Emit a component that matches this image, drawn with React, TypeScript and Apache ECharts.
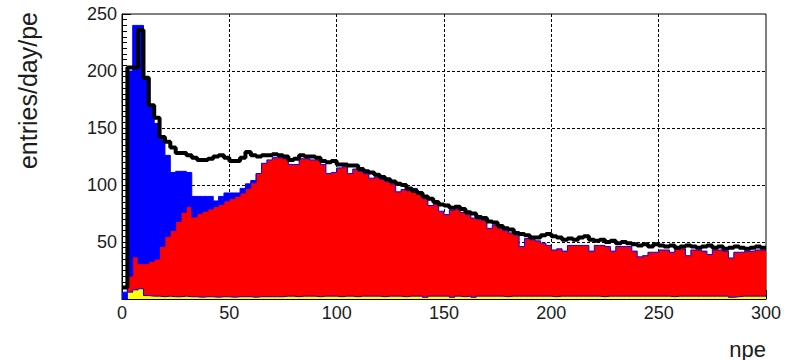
import React, { useEffect, useRef } from "react";
import * as echarts from "echarts";

// Histogram binning (npe)
const BIN_WIDTH = 2.5;
const X_MIN = 0;
const X_MAX = 300;
const Y_MIN = 0;
const Y_MAX = 250;

// Measured rate, entries/day/pe, one value per 2.5 pe bin (0–300)
const measured = [
  10, 203, 203, 236, 194, 170, 159, 142, 138, 133,
  128, 128, 126, 124, 122, 122, 123, 125, 126, 124,
  121, 121, 124, 129, 126, 125, 126, 126, 127, 126,
  125, 122, 123, 126, 125, 125, 124, 121, 120, 121,
  118, 118, 117, 117, 114, 112, 111, 109, 107, 105,
  103, 101, 100, 97, 95, 93, 90, 88, 85, 83,
  82, 80, 81, 79, 76, 75, 72, 71, 68, 67,
  64, 62, 61, 58, 57, 56, 54, 54, 56, 57,
  55, 54, 52, 53, 52, 54, 55, 52, 51, 52,
  50, 51, 49, 50, 49, 48, 47, 48, 46, 48,
  47, 46, 47, 45, 46, 47, 46, 45, 46, 47,
  45, 46, 44, 45, 46, 45, 44, 45, 46, 45,
];

// Low-energy component (blue), first 26 bins
const lowComponent = [
  6, 200, 240, 240, 195, 168, 154, 140, 126, 111,
  112, 112, 111, 90, 90, 90, 90, 86, 90, 93,
  93, 93, 97, 101, 104, 110,
];

// Main component (red)
const mainComponent = [
  0, 20, 37, 31, 31, 33, 35, 46, 55, 60,
  68, 76, 81, 72, 75, 77, 79, 81, 83, 86,
  88, 90, 93, 97, 102, 110, 119, 122, 124, 124,
  123, 118, 118, 123, 123, 122, 122, 118, 110, 111,
  115, 116, 110, 114, 112, 110, 106, 107, 105, 103,
  101, 94, 96, 95, 97, 92, 88, 82, 83, 77,
  74, 78, 79, 76, 74, 71, 70, 69, 62, 65,
  62, 60, 58, 56, 46, 53, 52, 51, 49, 47,
  43, 44, 42, 47, 47, 47, 47, 42, 47, 47,
  46, 42, 46, 46, 46, 42, 37, 38, 41, 41,
  43, 43, 41, 44, 44, 38, 43, 43, 42, 39,
  43, 43, 42, 36, 41, 41, 42, 42, 43, 43,
];

// Minor component (yellow)
const minorComponent = [
  0, 6, 8, 9, 3, 2.5, 2.5, 2, 2.5, 2,
  2, 2.5, 2, 2, 1.5, 2, 2, 1.5, 2, 2,
  1.5, 2, 2, 2, 1.5, 2, 2, 2, 2, 2,
  2.5, 2.5, 2, 2.5, 2.5, 2.5, 2, 2.5, 2.5, 2.5,
  2, 2.5, 2.5, 2, 2.5, 2.5, 2.5, 2.5, 2, 2.5,
  2.5, 2.5, 2, 2.5, 2.5, 2.5, 1.5, 2.5, 2.5, 2.5,
  2.5, 1.5, 2.5, 2, 2.5, 1.5, 2.5, 2.5, 2.5, 2.5,
  2.5, 2, 2.5, 2.5, 2.5, 2.5, 2.5, 2.5, 2.5, 2.5,
  2, 2.5, 2.5, 2.5, 2.5, 2.5, 2.5, 2.5, 2.5, 2,
  2.5, 2.5, 2.5, 2.5, 2.5, 2.5, 2.5, 2.5, 2.5, 2.5,
  2.5, 2.5, 2, 2.5, 2.5, 2.5, 2.5, 2.5, 2.5, 2.5,
  2.5, 2.5, 2.5, 1.5, 2, 2.5, 2.5, 2.5, 2.5, 2.5,
];

const X_TITLE = "npe";
const Y_TITLE = "entries/day/pe";

const FONT = "'Liberation Sans', Arial, Helvetica, sans-serif";
const TEXT_COLOR = "#1c1c1c";

// Turn per-bin contents into step points at the bin edges
function toSteps(values: number[]): [number, number][] {
  const pts: [number, number][] = values.map((v, i) => [X_MIN + i * BIN_WIDTH, v]);
  pts.push([X_MIN + values.length * BIN_WIDTH, values[values.length - 1]]);
  return pts;
}

function filledHist(name: string, values: number[], fill: string, z: number) {
  return {
    name,
    type: "line",
    step: "end",
    data: toSteps(values),
    symbol: "none",
    silent: true,
    z,
    lineStyle: { color: "#0000ff", width: 1 },
    areaStyle: { color: fill, opacity: 1, origin: "start" },
  };
}

export default function App() {
  const ref = useRef<HTMLDivElement>(null);

  useEffect(() => {
    if (!ref.current) return;
    const chart = echarts.init(ref.current, null, { renderer: "svg" });

    const gridLine = { color: "#000", width: 1, type: [3, 2] };

    chart.setOption({
      animation: false,
      backgroundColor: "#fff",
      grid: {
        left: 122,
        right: 28,
        top: 14,
        bottom: 61,
        show: true,
        borderColor: "#000",
        borderWidth: 1,
        backgroundColor: "transparent",
      },
      xAxis: {
        type: "value",
        min: X_MIN,
        max: X_MAX,
        interval: 50,
        axisLine: { show: true, lineStyle: { color: "#000", width: 1 } },
        axisTick: { show: true, inside: true, length: 9, lineStyle: { color: "#000" } },
        splitLine: { show: true, showMinLine: false, showMaxLine: false, lineStyle: gridLine },
        axisLabel: { color: TEXT_COLOR, fontSize: 18, fontFamily: FONT, margin: 5 },
      },
      yAxis: {
        type: "value",
        min: Y_MIN,
        max: Y_MAX,
        interval: 50,
        axisLine: { show: true, lineStyle: { color: "#000", width: 1 } },
        axisTick: { show: true, inside: true, length: 9, lineStyle: { color: "#000" } },
        minorTick: { show: true, splitNumber: 10, length: 5, lineStyle: { color: "#000" } },
        splitLine: { show: true, showMinLine: false, showMaxLine: false, lineStyle: gridLine },
        axisLabel: {
          color: TEXT_COLOR,
          fontSize: 18,
          fontFamily: FONT,
          margin: 5,
          formatter: (v: number) => (v === 0 ? "" : String(v)),
        },
      },
      series: [
        filledHist("low", lowComponent, "#0000ff", 2),
        filledHist("main", mainComponent, "#ff0000", 3),
        filledHist("minor", minorComponent, "#ffff00", 4),
        {
          name: "measured",
          type: "line",
          step: "end",
          data: toSteps(measured),
          symbol: "none",
          silent: true,
          z: 5,
          lineStyle: { color: "#000", width: 4 },
        },
      ],
      graphic: [
        {
          type: "text",
          x: 28,
          y: 12,
          rotation: Math.PI / 2,
          style: {
            text: Y_TITLE,
            fill: TEXT_COLOR,
            font: `25px ${FONT}`,
            textAlign: "right",
            textVerticalAlign: "middle",
          },
        },
        {
          type: "text",
          x: 766,
          y: 349,
          style: {
            text: X_TITLE,
            fill: TEXT_COLOR,
            font: `22px ${FONT}`,
            textAlign: "right",
            textVerticalAlign: "middle",
          },
        },
      ],
    });

    return () => chart.dispose();
  }, []);

  return (
    <div
      ref={ref}
      style={{ position: "fixed", left: 0, top: 0, width: 794, height: 360 }}
    />
  );
}
